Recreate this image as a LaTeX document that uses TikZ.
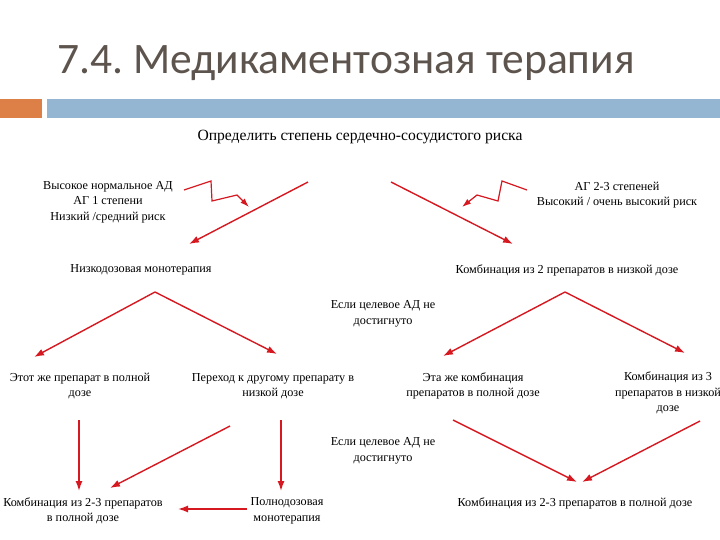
\documentclass[tikz,border=0pt]{standalone}
\usepackage{fontspec}
\setmainfont{Liberation Serif}
\newfontfamily\titlefont{Carlito}
\usetikzlibrary{arrows.meta}
\definecolor{titlegray}{RGB}{94,84,78}
\definecolor{barorange}{RGB}{221,128,71}
\definecolor{barblue}{RGB}{148,182,210}
\definecolor{arrowred}{RGB}{214,24,32}
\begin{document}
\frenchspacing
\begin{tikzpicture}[x=1pt,y=-1pt,
  txt/.style={font=\fontsize{12.2}{15.5}\selectfont, align=center, inner sep=0pt, text=black},
  redarrow/.style={draw=arrowred, line width=1.4pt, -{Latex[length=10pt,width=7pt]}},
  zig/.style={draw=arrowred, line width=1.2pt, line join=miter, -{Latex[length=9pt,width=6pt]}}]
\useasboundingbox (0,0) rectangle (720,540);
\fill[white] (0,0) rectangle (720,540);
% title and bars
\node[anchor=base west, inner sep=0pt, font=\titlefont\fontsize{43.5}{44}\selectfont, text=titlegray] (title) at (57,74) {7.4. Медикаментозная терапия};
\fill[barorange] (0,99) rectangle (42,118);
\fill[barblue] (47,99) rectangle (720,118);
% texts
\node[txt, font=\fontsize{15.6}{18}\selectfont] (top) at (360,137) {Определить степень сердечно-сосудистого риска};
\node[txt] (lowrisk) at (108,202) {Высокое нормальное АД\\АГ 1 степени\\Низкий /средний риск};
\node[txt] (highrisk) at (617,195) {АГ 2-3 степеней\\Высокий / очень высокий риск};
\node[txt] (mono) at (141,270) {Низкодозовая монотерапия};
\node[txt] (combo2) at (567,270) {Комбинация из 2 препаратов в низкой дозе};
\node[txt] (cond1) at (383,314) {Если целевое АД не\\достигнуто};
\node[txt] (same) at (80,386) {Этот же препарат в полной\\дозе};
\node[txt] (switch) at (273,386) {Переход к другому препарату в\\низкой дозе};
\node[txt] (samecombo) at (473,386) {Эта же комбинация\\препаратов в полной дозе};
\node[txt] (combo3) at (668,393) {Комбинация из 3\\препаратов в низкой\\дозе};
\node[txt] (cond2) at (383,451) {Если целевое АД не\\достигнуто};
\node[txt] (combo23L) at (83,511) {Комбинация из 2-3 препаратов\\в полной дозе};
\node[txt] (fullmono) at (287,511) {Полнодозовая\\монотерапия};
\node[txt] (combo23R) at (575,503) {Комбинация из 2-3 препаратов в полной дозе};
% connector coordinates
\coordinate (a1s) at (308,182); \coordinate (a1e) at (189,244);
\coordinate (a2s) at (391,182); \coordinate (a2e) at (513,244);
\coordinate (z1s) at (184,190); \coordinate (z1a) at (211,181); \coordinate (z1b) at (212,201); \coordinate (z1c) at (237,195); \coordinate (z1e) at (249,207);
\coordinate (z2s) at (527,190); \coordinate (z2a) at (502,181); \coordinate (z2b) at (498,201); \coordinate (z2c) at (477,195); \coordinate (z2e) at (462,207);
\coordinate (f1) at (155,292); \coordinate (f1l) at (34,357); \coordinate (f1r) at (277,354);
\coordinate (f2) at (565,292); \coordinate (f2l) at (443,356); \coordinate (f2r) at (685,353);
\coordinate (d1s) at (79,420); \coordinate (d1e) at (79,491);
\coordinate (d2s) at (281,420); \coordinate (d2e) at (281,491);
\coordinate (dgs) at (230,426); \coordinate (dge) at (110,488);
\coordinate (hs) at (247,509); \coordinate (he) at (178,509);
\coordinate (r1s) at (453,420); \coordinate (r1e) at (577,482);
\coordinate (r2s) at (700,421); \coordinate (r2e) at (582,482);
% connectors
\draw[redarrow] (a1s) -- (a1e);
\draw[redarrow] (a2s) -- (a2e);
\draw[zig] (z1s) -- (z1a) -- (z1b) -- (z1c) -- (z1e);
\draw[zig] (z2s) -- (z2a) -- (z2b) -- (z2c) -- (z2e);
\draw[redarrow] (f1) -- (f1l);
\draw[redarrow] (f1) -- (f1r);
\draw[redarrow] (f2) -- (f2l);
\draw[redarrow] (f2) -- (f2r);
\draw[redarrow] (d1s) -- (d1e);
\draw[redarrow] (d2s) -- (d2e);
\draw[redarrow] (dgs) -- (dge);
\draw[redarrow] (hs) -- (he);
\draw[redarrow] (r1s) -- (r1e);
\draw[redarrow] (r2s) -- (r2e);
\end{tikzpicture}
\end{document}
